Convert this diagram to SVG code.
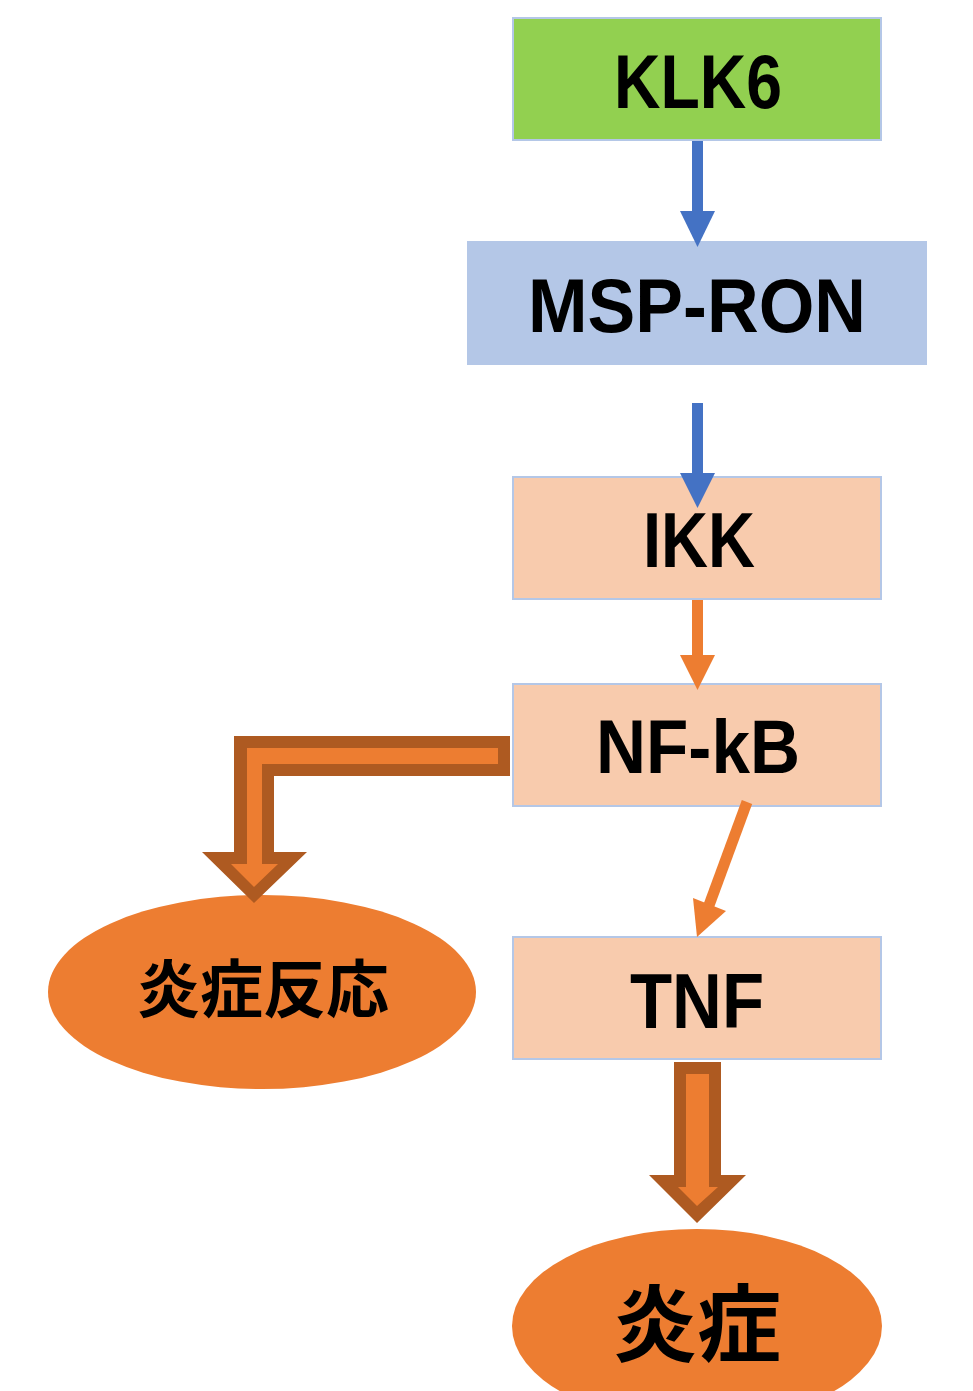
<svg xmlns="http://www.w3.org/2000/svg" width="973" height="1391" viewBox="0 0 973 1391">
<style>
.box{stroke:#B4C7E7;stroke-width:2}
.lbl{font-family:"Liberation Sans",Arial,sans-serif;font-weight:bold;fill:#000;text-anchor:middle}
.cjk{font-family:"Noto Sans CJK JP","Noto Sans CJK SC",sans-serif;font-weight:bold;fill:#000;text-anchor:middle}
.blue{stroke:#4472C4;stroke-width:11;fill:none}
.or{stroke:#ED7D31;stroke-width:11;fill:none}
.bk{fill:#AE5A21}
.bi{fill:#ED7D31}
</style>
<rect width="973" height="1391" fill="#fff"/>
<g id="klk6">
<rect class="box" x="513" y="18" width="368" height="122" fill="#92D050"/>
<text class="lbl" x="698" y="108" font-size="76" textLength="168" lengthAdjust="spacingAndGlyphs">KLK6</text>
</g>
<g id="msp-ron">
<rect x="467" y="241" width="460" height="124" fill="#B4C7E7"/>
<text class="lbl" x="697" y="332" font-size="76" textLength="338" lengthAdjust="spacingAndGlyphs">MSP-RON</text>
</g>
<g id="ikk">
<rect class="box" x="513" y="477" width="368" height="122" fill="#F8CBAD"/>
<text class="lbl" x="699" y="567" font-size="78" textLength="112" lengthAdjust="spacingAndGlyphs">IKK</text>
</g>
<g id="nf-kb">
<rect class="box" x="513" y="684" width="368" height="122" fill="#F8CBAD"/>
<text class="lbl" x="698" y="773" font-size="76" textLength="204" lengthAdjust="spacingAndGlyphs">NF-kB</text>
</g>
<g id="tnf">
<rect class="box" x="513" y="937" width="368" height="122" fill="#F8CBAD"/>
<text class="lbl" x="697" y="1028" font-size="78" textLength="134" lengthAdjust="spacingAndGlyphs">TNF</text>
</g>
<g id="inflammatory-response">
<ellipse cx="262" cy="992" rx="214" ry="97" fill="#ED7D31"/>
<text class="cjk" x="263" y="1012" font-size="63">炎症反応</text>
</g>
<g id="inflammation">
<ellipse cx="697" cy="1326" rx="185" ry="97" fill="#ED7D31"/>
<text class="cjk" x="697" y="1355" font-size="84">炎症</text>
</g>
<g id="connectors">
<line class="blue" x1="697.5" y1="141" x2="697.5" y2="214"/>
<polygon points="680,211 715,211 697.5,247" fill="#4472C4"/>
<line class="blue" x1="697.5" y1="403" x2="697.5" y2="476"/>
<polygon points="680,473 715,473 697.5,508" fill="#4472C4"/>
<line class="or" x1="697.5" y1="600" x2="697.5" y2="658"/>
<polygon points="680,655 715,655 697.5,690" fill="#ED7D31"/>
<line class="or" x1="747" y1="802" x2="708" y2="908"/>
<polygon points="693,898 726,911 697,937" fill="#ED7D31"/>
<polygon class="bk" points="510,736 234,736 234,852 202,852 254,903 307,852 274,852 274,776 510,776"/>
<polygon class="bi" points="498,748 247,748 247,864 231,864 254,887 278,864 262,864 262,764 498,764"/>
<polygon class="bk" points="674,1062 721,1062 721,1175 746,1175 697,1223 649,1175 674,1175"/>
<polygon class="bi" points="686,1074 709,1074 709,1187 718,1187 697,1206 678,1187 686,1187"/>
</g>
</svg>
